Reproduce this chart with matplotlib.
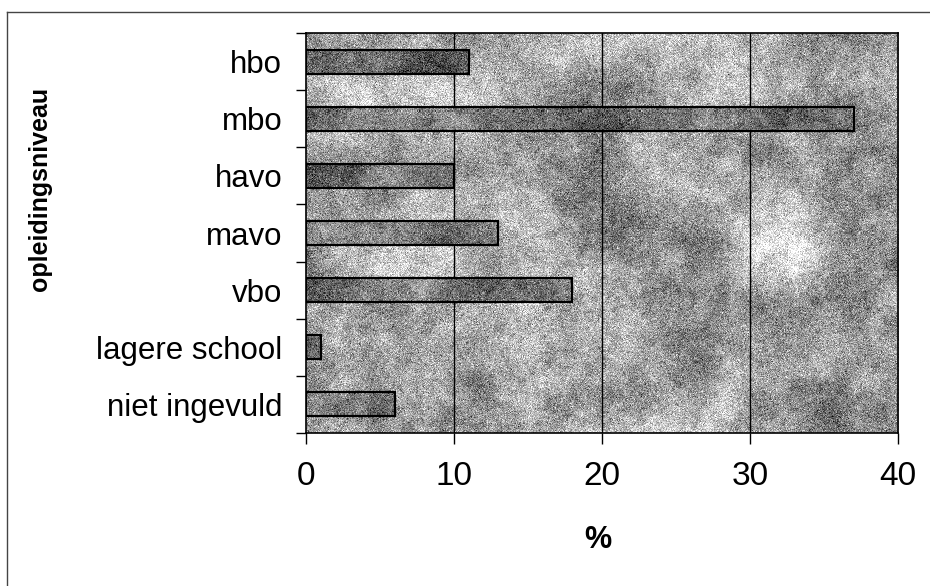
import numpy as np
import matplotlib
matplotlib.use("Agg")
import matplotlib.pyplot as plt
from matplotlib.lines import Line2D

# opleidingsniveau, top to bottom
niveaus = ["hbo", "mbo", "havo", "mavo", "vbo", "lagere school", "niet ingevuld"]
percentages = [11, 37, 10, 13, 18, 1, 6]
x_ticks = [0, 10, 20, 30, 40]

plt.rcParams['font.family'] = ['Liberation Sans', 'DejaVu Sans']


def granite(shape, base, blob_amp, grain_amp, seed):
    # smooth mottling plus fine grain, like an old printed fill pattern
    rng = np.random.default_rng(seed)
    ky = np.fft.fftfreq(shape[0])[:, None]
    kx = np.fft.rfftfreq(shape[1])[None, :]
    out = np.zeros(shape)
    for sigma, w in [(25, 1.0), (8, 0.6), (2.5, 0.4)]:
        n = rng.standard_normal(shape)
        filt = np.exp(-2 * (np.pi * sigma) ** 2 * (kx ** 2 + ky ** 2))
        s = np.fft.irfft2(np.fft.rfft2(n) * filt, s=shape)
        out += w * s / s.std()
    out = out / out.std()
    grain = rng.standard_normal(shape)
    img = base + blob_amp * out + grain_amp * grain
    return np.clip(img, 0, 1)


fig = plt.figure(figsize=(9.3, 5.86), dpi=100)
ax = fig.add_axes([0.329, 0.261, 0.6366, 0.6826])

n = len(niveaus)
ypos = np.arange(n)[::-1]

ax.set_xlim(0, 40)
ax.set_ylim(-0.5, n - 0.5)

# textured plot area
bg = granite((400, 592), 0.64, 0.09, 0.13, 3)
ax.imshow(bg, extent=(0, 40, -0.5, n - 0.5), aspect='auto', cmap='gray',
          vmin=0, vmax=1, zorder=0, interpolation='nearest')

for xv in x_ticks[1:-1]:
    ax.axvline(xv, color='black', lw=1, zorder=1)

bars = ax.barh(ypos, percentages, height=0.42, facecolor='none',
               edgecolor='black', lw=1.6, zorder=3)
for i, bar in enumerate(bars):
    tex = granite((400, 592), 0.48, 0.08, 0.12, 10 + i)
    im = ax.imshow(tex, extent=(0, 40, -0.5, n - 0.5), aspect='auto', cmap='gray',
                   vmin=0, vmax=1, zorder=2, interpolation='nearest')
    im.set_clip_path(bar)

ax.set_xticks(x_ticks)
ax.set_xticklabels([str(v) for v in x_ticks], fontsize=24)
ax.tick_params(axis='x', direction='out', length=8, width=1, pad=12)

ax.set_yticks(ypos)
ax.set_yticklabels(niveaus, fontsize=22.5)
ax.tick_params(axis='y', which='major', length=0, pad=17)
ax.set_yticks(np.arange(-0.5, n, 1.0), minor=True)
ax.tick_params(axis='y', which='minor', direction='out', length=7, width=1)

for sp in ax.spines.values():
    sp.set_linewidth(1.2)
    sp.set_zorder(4)

fig.text(0.643, 1 - 540 / 586, "%", fontsize=22, fontweight='bold',
         ha='center', va='center')
fig.text(40 / 930, 1 - 189 / 586, "opleidingsniveau", fontsize=18,
         fontweight='bold', rotation=90, ha='center', va='center')

# thin frame along the top and left edge
fig.add_artist(Line2D([7 / 930, 7 / 930], [0, 1 - 12 / 586],
                      transform=fig.transFigure, color='#444444', lw=1))
fig.add_artist(Line2D([7 / 930, 1], [1 - 12 / 586, 1 - 12 / 586],
                      transform=fig.transFigure, color='#444444', lw=1))

fig.savefig("out.png", dpi=100)
